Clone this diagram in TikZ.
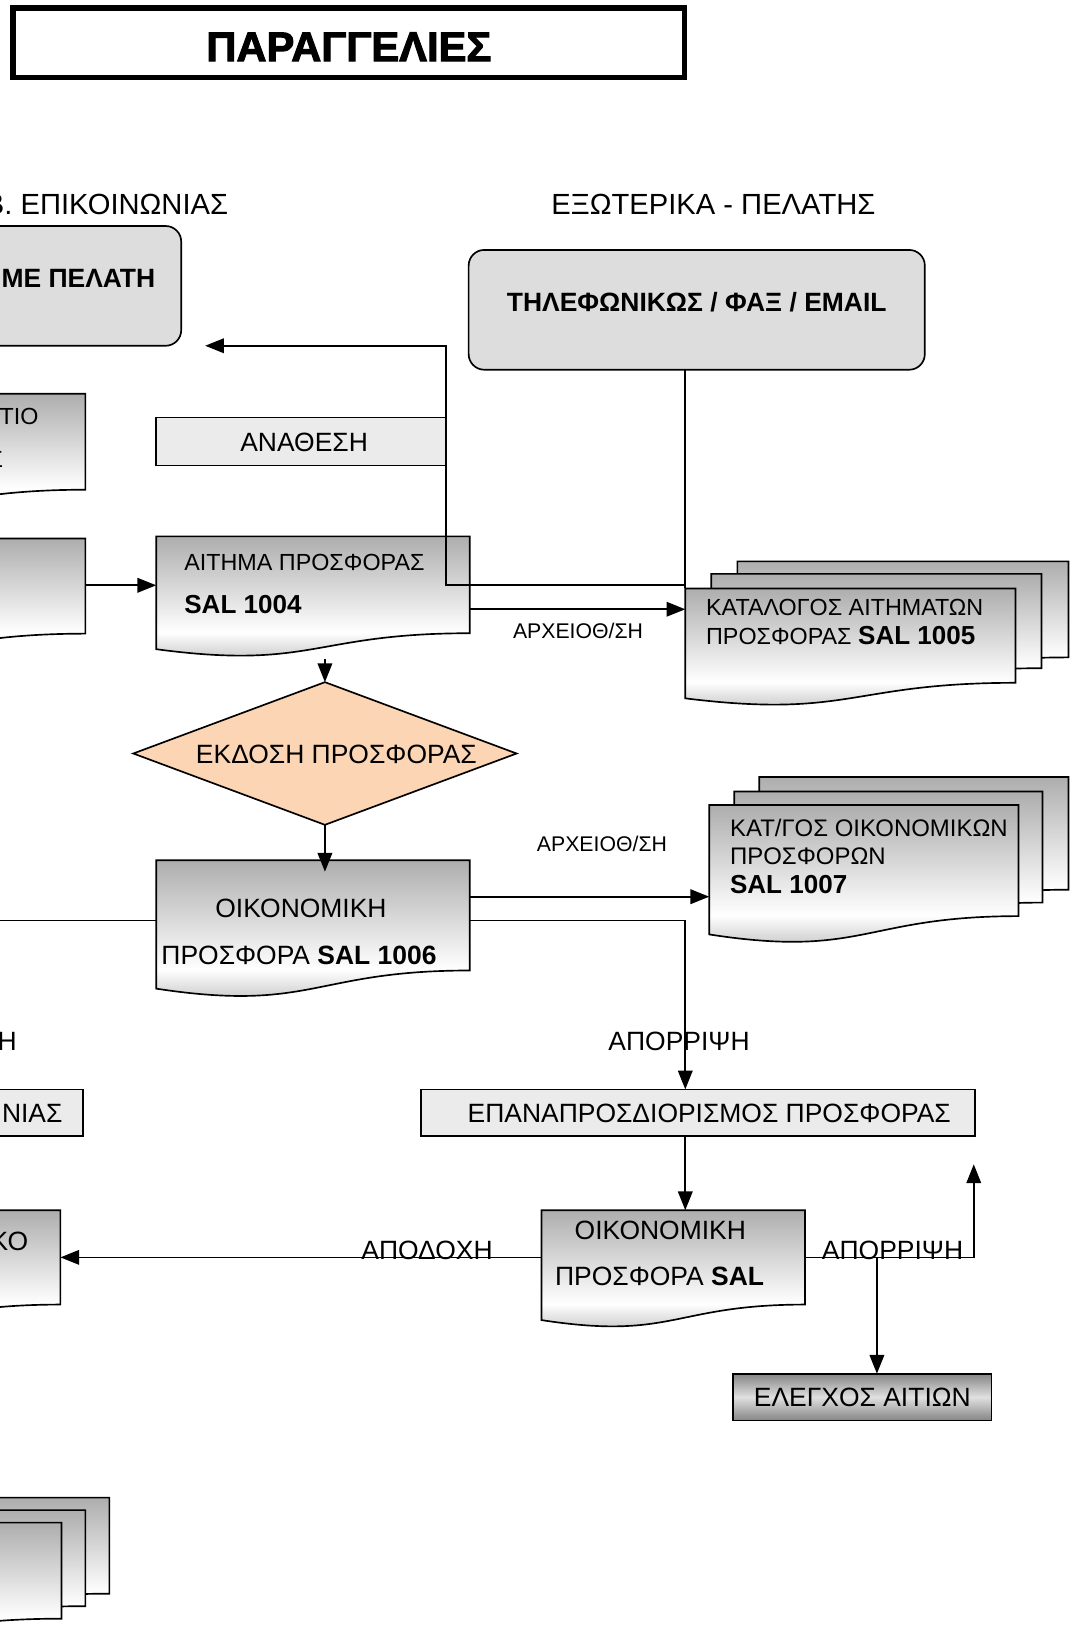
\documentclass[tikz,border=0pt]{standalone}
\usepackage{fontspec}
\setmainfont{Liberation Sans}
\newfontfamily\titlefont[BoldFeatures={FakeBold=2.5}]{Liberation Sans}
\usetikzlibrary{arrows.meta,shapes.geometric,calc}

\definecolor{boxgray}{RGB}{221,221,221}
\definecolor{lightbox}{RGB}{235,235,235}
\definecolor{peach}{RGB}{252,213,180}
\pgfdeclareverticalshading{docshade}{100bp}{color(0bp)=(black!30); color(25bp)=(black!30); color(39bp)=(white); color(75bp)=(black!32); color(100bp)=(black!32)}

\tikzset{
  every node/.style={inner sep=0pt, outer sep=0pt},
  ln/.style={line width=0.8pt},
  arr/.style={ln, -{Triangle[length=9pt,width=7pt]}},
  docsty/.style={draw, line width=0.8pt, shade, shading=docshade},
  rbox/.style={draw, ln, fill=boxgray, rounded corners=7.5pt},
  lbox/.style={draw, ln, fill=lightbox},
  tA/.style={font=\fontsize{12.7}{15}\selectfont},
  tB/.style={font=\fontsize{11.2}{13}\selectfont},
  tC/.style={font=\fontsize{11.5}{13}\selectfont},
  tS/.style={font=\fontsize{10.2}{12}\selectfont},
  tH/.style={font=\fontsize{14}{16}\selectfont},
  tbold/.style={font=\fontsize{12.7}{15}\selectfont\bfseries},
  tsal/.style={font=\fontsize{12.5}{15}\selectfont\bfseries},
  ttitle/.style={font=\titlefont\fontsize{20}{22}\selectfont\bfseries},
}

\newcommand\docsh[5]{%
  \pgfmathsetmacro\dxm{(#2+#4)/2}%
  \pgfmathsetmacro\dyr{#3+0.802*#5}%
  \pgfmathsetmacro\dyc{#3+1.1075*#5}%
  \pgfmathsetmacro\dyl{#3+0.934*#5}%
  \path[docsty] (#2,#3) -- (#4,#3) -- (#4,\dyr) .. controls (\dxm,\dyr) and (\dxm,\dyc) .. (#2,\dyl) -- cycle;
  \pgfmathsetmacro\dw{(#4-#2)*0.5}%
  \pgfmathsetmacro\dh{0.802*#5*0.5}%
  \node[minimum width=\dw pt, minimum height=\dh pt, anchor=north west] (#1) at (#2,#3) {};
}

\begin{document}
\begin{tikzpicture}[x=0.5pt, y=-0.5pt]
\useasboundingbox (0,0) rectangle (1036,1568);
\clip (0,0) rectangle (1036,1568);

% title
\node[draw, line width=2.6pt, minimum width=322.5pt, minimum height=33.5pt] (title) at (335,41) {};
\node[ttitle] (title-t) at (335,45) {ΠΑΡΑΓΓΕΛΙΕΣ};

% headers
\node[tH, anchor=east] (hdrL) at (219,196) {Β. ΕΠΙΚΟΙΝΩΝΙΑΣ};
\node[tH] (hdrR) at (685,196) {ΕΞΩΤΕΡΙΚΑ - ΠΕΛΑΤΗΣ};

% rounded boxes
\node[rbox, minimum width=107pt, minimum height=57.5pt] (leftR) at (67,274.5) {};
\node[rbox, minimum width=219pt, minimum height=57.5pt] (phone) at (669,297.5) {};

% assignment box
\node[lbox, minimum width=139pt, minimum height=23pt] (anath) at (289,424) {};

% documents
\docsh{docTIO}{-220}{378}{82}{115}
\docsh{docL2}{-220}{517}{82}{114}
\docsh{aitima}{150}{515}{451}{116}
\docsh{katB}{708}{539}{1026}{115}
\docsh{katM}{683}{551}{1000}{113}
\docsh{katF}{658}{565}{975}{113}
\docsh{oikB}{729}{746}{1026}{135}
\docsh{oikM}{705}{760}{1001}{133}
\docsh{oikF}{681}{773}{978}{133}
\docsh{oik1}{150}{826}{451}{132}
\docsh{docKO}{-220}{1162}{58}{113}
\docsh{oik2}{520}{1162}{773}{113}
\docsh{stB}{-200}{1438}{105}{115}
\docsh{stM}{-223}{1450}{82}{115}
\docsh{stF}{-246}{1462}{59}{115}

% decision
\node[diamond, draw, ln, fill=peach, minimum width=184pt, minimum height=68.5pt, aspect=2.69] (ekd) at (312,723.5) {};

% other boxes
\node[lbox, minimum width=266pt, minimum height=22.5pt] (epana) at (670,1068.5) {};
\node[lbox, minimum width=60pt, minimum height=22.5pt] (nias) at (20,1068.5) {};
\node[draw, ln, top color=black!48, bottom color=black!48, middle color=black!12, minimum width=124pt, minimum height=22.5pt] (elegxos) at (828,1341.5) {};

% texts
\node[tbold, anchor=east] (leftR-t) at (149,267) {ΜΕ ΠΕΛΑΤΗ};
\node[tbold] (phone-t) at (669,290) {ΤΗΛΕΦΩΝΙΚΩΣ / ΦΑΞ / EMAIL};
\node[tA] (anath-t) at (292,425) {ΑΝΑΘΕΣΗ};
\node[tB, anchor=east] (docTIO-t) at (37,400) {ΤΙΟ};
\node[tB, anchor=east] (docTIO-t2) at (3,441) {Σ};
\node[tB, anchor=base west] (aitima-t1) at (177,548) {ΑΙΤΗΜΑ ΠΡΟΣΦΟΡΑΣ};
\node[tsal, anchor=base west] (aitima-t2) at (177,589) {SAL 1004};
\node[tB, anchor=base west] (katF-t1) at (678,591) {ΚΑΤΑΛΟΓΟΣ ΑΙΤΗΜΑΤΩΝ};
\node[tB, anchor=base west] (katF-t2) at (678,619) {ΠΡΟΣΦΟΡΑΣ {\fontsize{12.5}{15}\selectfont\bfseries SAL 1005}};
\node[tA] (ekd-t) at (323,724) {ΕΚΔΟΣΗ ΠΡΟΣΦΟΡΑΣ};
\node[tC, anchor=base west] (oikF-t1) at (701,803) {ΚΑΤ/ΓΟΣ ΟΙΚΟΝΟΜΙΚΩΝ};
\node[tC, anchor=base west] (oikF-t2) at (701,830) {ΠΡΟΣΦΟΡΩΝ};
\node[tsal, anchor=base west] (oikF-t3) at (701,858) {SAL 1007};
\node[tA] (oik1-t1) at (289,872) {ΟΙΚΟΝΟΜΙΚΗ};
\node[tA, anchor=base west] (oik1-t2) at (155,926) {ΠΡΟΣΦΟΡΑ \textbf{SAL 1006}};
\node[tA] (oik2-t1) at (634,1181) {ΟΙΚΟΝΟΜΙΚΗ};
\node[tA, anchor=base west] (oik2-t2) at (533,1234) {ΠΡΟΣΦΟΡΑ \textbf{SAL}};
\node[tA, anchor=east] (docKO-t) at (27,1192) {ΚΟ};
\node[tA] (epana-t) at (681,1069) {ΕΠΑΝΑΠΡΟΣΔΙΟΡΙΣΜΟΣ ΠΡΟΣΦΟΡΑΣ};
\node[tA, anchor=east] (nias-t) at (60,1069) {ΝΙΑΣ};
\node[tA] (elegxos-t) at (828,1342) {ΕΛΕΓΧΟΣ ΑΙΤΙΩΝ};

% labels
\node[tS] (lblArx1) at (555,606) {ΑΡΧΕΙΟΘ/ΣΗ};
\node[tS] (lblArx2) at (578,810) {ΑΡΧΕΙΟΘ/ΣΗ};
\node[tA] (lblApor1) at (652,1000) {ΑΠΟΡΡΙΨΗ};
\node[tA, anchor=east] (lblH) at (16,1000) {Η};
\node[tA, anchor=base] (lblApod) at (410,1209) {ΑΠΟΔΟΧΗ};
\node[tA, anchor=base] (lblApor2) at (857,1209) {ΑΠΟΡΡΙΨΗ};

% helper coordinates
\coordinate (y562) at (0,562);
\coordinate (y585) at (0,585);
\coordinate (y861) at (0,861);
\coordinate (y884) at (0,884);
\coordinate (x658) at (658,0);
\coordinate (x842) at (842,0);
\coordinate (x935) at (935,0);
\coordinate (offL) at (-10,884);
\coordinate (tipML) at ($(leftR.south east)+(23,0)$);
\coordinate (tipUp) at ($(epana.south -| x935)+(0,27)$);

% connectors
\draw[ln] (phone.south -| katF.north west) -- (katF.north west);
\draw[arr] (katF.north west |- y562) -- (anath.east |- y562) -- (anath.east |- leftR.south) -- (tipML);
\draw[arr] (docL2.east |- y562) -- (aitima.west |- y562);
\draw[arr] (aitima.east |- y585) -- (katF.west |- y585);
\draw[arr] ($(ekd.north)+(0,-22)$) -- (ekd.north);
\draw[arr] (ekd.south) -- ($(oik1.north -| ekd.south)+(0,11)$);
\draw[ln] (oik1.west |- y884) -- (offL);
\draw[arr] (oik1.east |- y861) -- (oikF.west |- y861);
\draw[arr] (oik1.east |- y884) -- (x658 |- y884) -- (x658 |- epana.north);
\draw[arr] (x658 |- epana.south) -- (x658 |- oik2.north);
\draw[arr] (oik2.west) -- (docKO.east);
\draw[arr] (oik2.east) -- (x935 |- oik2.east) -- (tipUp);
\draw[arr] (x842 |- oik2.east) -- (x842 |- elegxos.north);
\end{tikzpicture}
\end{document}
